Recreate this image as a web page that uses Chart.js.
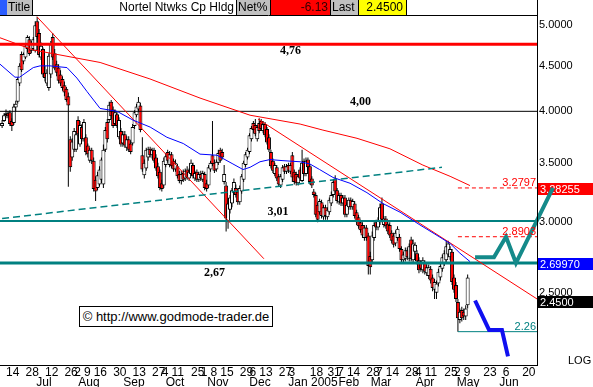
<!DOCTYPE html>
<html>
<head>
<meta charset="utf-8">
<title>Nortel Ntwks Cp Hldg</title>
<script src="https://cdn.jsdelivr.net/npm/chart.js@4.4.1/dist/chart.umd.min.js"></script>
<style>
  html, body { margin: 0; padding: 0; background: #fff; }
  #wrap { position: relative; width: 593px; height: 387px; overflow: hidden; font-family: 'Liberation Sans', Arial, sans-serif; }
  #chart { position: absolute; left: 0; top: 0; }
  .hd { position: absolute; top: 0; height: 15px; line-height: 15px; font-size: 12px; box-sizing: border-box; white-space: nowrap; color: #000; }
  .gray { background: #c0c0c0; }
  .edge { border-left: 1px solid #000; border-right: 1px solid #000; }
  #copy { position: absolute; left: 79px; top: 306px; width: 194px; height: 21px; box-sizing: border-box; border: 1px solid #000; background: #fff; font-size: 13px; line-height: 19px; text-align: center; }
</style>
</head>
<body>
<div id="wrap">
  <canvas id="chart" width="593" height="387"></canvas>
  <div class="hd" style="left:0;width:7px;background:#2a5cff"></div>
  <div class="hd gray" style="left:7px;width:26px;padding-left:1px;border-right:1px solid #000">Title</div>
  <div class="hd" style="left:33px;width:203px;text-align:right;padding-right:2px">Nortel Ntwks Cp Hldg</div>
  <div class="hd gray edge" style="left:236px;width:35px;padding-left:1px">Net%</div>
  <div class="hd" style="left:271px;width:60px;background:#ff0000;color:#300000;text-align:right;padding-right:3px">-6.13</div>
  <div class="hd gray edge" style="left:330px;width:29px;padding-left:1px">Last</div>
  <div class="hd" style="left:359px;width:48px;background:#ffff00;text-align:right;padding-right:3px;border-right:1px solid #000">2.4500</div>
  <div id="copy">© http://www.godmode-trader.de</div>
</div>
<script>
// trading day index 0 = Mon 14 Jun 2004
const firstDay = -2;
const xMin = -3.08;
const xMax = 272.6;
const yMin = 2.073;
const yMax = 5.134;
const yTicks = [2.5, 3, 3.5, 4, 4.5, 5];

const opens = [
  3.85,3.90,3.96,3.98,3.99,3.90,3.88,4.04,4.10,4.30,
  4.64,4.55,4.60,4.70,4.82,4.68,4.70,4.68,5.05,4.90,
  4.60,4.70,4.42,4.30,4.25,4.40,4.85,4.65,4.52,4.48,
  4.40,4.35,4.28,4.24,4.16,3.72,3.55,3.62,3.62,3.91,
  3.67,3.84,3.72,3.74,3.66,3.52,3.62,3.52,3.35,3.28,
  3.31,3.35,3.31,3.62,3.89,3.91,4.10,4.02,3.87,3.97,
  3.74,3.80,3.68,3.77,3.64,3.72,3.68,3.68,3.85,3.96,
  4.02,4.06,3.57,3.39,3.45,3.55,3.63,3.57,3.62,3.55,
  3.47,3.42,3.32,3.30,3.48,3.60,3.48,3.58,3.52,3.44,
  3.47,3.40,3.34,3.41,3.36,3.44,3.36,3.40,3.48,3.36,
  3.42,3.35,3.40,3.35,3.40,3.32,3.30,3.44,3.57,3.50,
  3.44,3.50,3.62,3.60,3.33,3.30,3.00,3.10,3.15,3.24,
  3.28,3.25,3.16,3.25,3.35,3.48,3.55,3.60,3.72,3.88,
  3.86,3.72,3.88,3.90,3.80,3.87,3.82,3.74,3.60,3.52,
  3.40,3.46,3.38,3.30,3.35,3.47,3.42,3.48,3.42,3.57,
  3.42,3.40,3.32,3.44,3.34,3.52,3.40,3.53,3.47,3.36,
  3.25,3.22,3.14,3.08,3.16,3.04,3.12,3.04,3.08,3.15,
  3.22,3.36,3.26,3.16,3.22,3.15,3.20,3.06,3.12,3.18,
  3.12,3.15,3.08,3.04,3.00,2.98,2.88,2.96,2.90,2.75,
  2.72,2.88,3.00,2.96,3.00,3.15,2.98,3.03,2.99,2.98,
  2.92,2.90,2.84,2.88,2.89,2.80,2.72,2.73,2.79,2.73,
  2.87,2.72,2.78,2.77,2.72,2.70,2.65,2.70,2.63,2.61,
  2.66,2.60,2.52,2.50,2.56,2.60,2.66,2.70,2.72,2.76,
  2.74,2.78,2.60,2.55,2.44,2.33,2.39,2.38,2.35,2.42
];
const highs = [
  3.91,3.98,4.02,4.00,4.01,3.93,4.08,4.11,4.37,4.53,
  4.67,4.66,4.77,4.87,4.86,4.80,4.85,5.05,5.11,4.95,
  4.78,4.72,4.50,4.46,4.65,4.80,4.90,4.70,4.56,4.52,
  4.45,4.38,4.32,4.26,4.20,3.75,3.73,3.83,3.80,3.95,
  3.90,3.87,3.92,3.77,3.68,3.64,3.64,3.55,3.38,3.42,
  3.47,3.55,3.67,3.84,3.92,4.10,4.12,4.05,4.02,4.00,
  3.94,3.83,3.80,3.80,3.75,3.75,3.71,3.87,4.01,4.08,
  4.15,4.09,3.74,3.53,3.64,3.65,3.65,3.64,3.64,3.58,
  3.50,3.44,3.35,3.55,3.59,3.62,3.61,3.60,3.54,3.53,
  3.49,3.43,3.43,3.44,3.45,3.47,3.45,3.53,3.50,3.43,
  3.44,3.42,3.43,3.43,3.42,3.35,3.48,3.52,3.90,3.53,
  3.53,3.62,3.64,3.63,3.48,3.33,3.18,3.22,3.28,3.36,
  3.31,3.27,3.30,3.40,3.52,3.60,3.64,3.78,3.85,3.90,
  3.92,3.86,3.93,3.92,3.90,3.89,3.84,3.77,3.62,3.54,
  3.50,3.48,3.40,3.40,3.48,3.49,3.49,3.50,3.50,3.60,
  3.44,3.42,3.40,3.46,3.62,3.54,3.55,3.55,3.49,3.38,
  3.27,3.24,3.16,3.19,3.18,3.14,3.14,3.12,3.20,3.25,
  3.35,3.39,3.28,3.24,3.24,3.22,3.22,3.16,3.20,3.20,
  3.19,3.17,3.10,3.06,3.02,3.00,2.98,2.98,2.92,2.78,
  2.93,3.00,3.02,3.04,3.15,3.20,3.05,3.05,3.01,3.00,
  2.94,2.92,2.94,2.97,2.91,2.82,2.78,2.81,2.81,2.84,
  2.89,2.87,2.85,2.79,2.74,2.72,2.74,2.72,2.69,2.69,
  2.68,2.62,2.59,2.58,2.66,2.70,2.76,2.79,2.86,2.86,
  2.82,2.80,2.62,2.57,2.46,2.40,2.41,2.40,2.42,2.62
];
const lows = [
  3.83,3.89,3.93,3.93,3.85,3.80,3.86,4.00,4.08,4.27,
  4.43,4.52,4.58,4.66,4.62,4.65,4.68,4.66,4.82,4.60,
  4.57,4.37,4.32,4.27,4.22,4.36,4.57,4.45,4.38,4.30,
  4.27,4.22,4.16,4.10,3.29,3.42,3.52,3.60,3.60,3.74,
  3.65,3.70,3.70,3.57,3.55,3.50,3.49,3.25,3.17,3.26,
  3.29,3.32,3.28,3.60,3.69,3.88,3.92,3.83,3.85,3.83,
  3.72,3.65,3.65,3.64,3.61,3.60,3.58,3.66,3.82,3.94,
  3.99,3.79,3.42,3.36,3.43,3.52,3.55,3.54,3.50,3.43,
  3.36,3.26,3.25,3.28,3.46,3.50,3.46,3.45,3.42,3.42,
  3.36,3.32,3.31,3.33,3.34,3.35,3.34,3.38,3.36,3.34,
  3.33,3.33,3.34,3.33,3.26,3.25,3.28,3.42,3.47,3.41,
  3.42,3.48,3.50,3.53,3.31,2.93,2.95,3.07,3.12,3.22,
  3.20,3.14,3.14,3.23,3.33,3.46,3.53,3.58,3.70,3.78,
  3.75,3.70,3.78,3.80,3.78,3.74,3.67,3.60,3.45,3.41,
  3.38,3.34,3.29,3.28,3.33,3.40,3.40,3.41,3.40,3.33,
  3.31,3.30,3.30,3.34,3.33,3.38,3.38,3.44,3.31,3.28,
  3.20,3.04,3.00,3.06,3.03,3.02,3.02,3.02,3.06,3.13,
  3.20,3.23,3.15,3.14,3.13,3.13,3.04,3.04,3.10,3.10,
  3.10,3.03,2.98,2.95,2.92,2.88,2.86,2.86,2.62,2.62,
  2.70,2.86,2.94,2.94,2.98,3.00,2.96,2.95,2.91,2.88,
  2.84,2.81,2.82,2.86,2.78,2.70,2.70,2.71,2.72,2.71,
  2.71,2.70,2.76,2.69,2.63,2.64,2.63,2.62,2.61,2.59,
  2.56,2.51,2.46,2.46,2.54,2.58,2.64,2.68,2.70,2.74,
  2.72,2.55,2.50,2.44,2.26,2.31,2.32,2.33,2.33,2.40
];
const closes = [
  3.88,3.96,3.98,3.95,3.87,3.85,4.05,4.08,4.35,4.50,
  4.45,4.64,4.74,4.85,4.64,4.77,4.82,5.00,4.85,4.63,
  4.74,4.40,4.36,4.42,4.62,4.76,4.60,4.47,4.42,4.33,
  4.30,4.25,4.20,4.12,4.06,3.46,3.70,3.80,3.77,3.77,
  3.86,3.72,3.89,3.60,3.58,3.62,3.52,3.27,3.25,3.39,
  3.44,3.53,3.62,3.81,3.72,4.07,3.95,3.85,3.99,3.85,
  3.91,3.67,3.77,3.66,3.72,3.62,3.60,3.84,3.99,4.05,
  4.10,3.81,3.44,3.50,3.62,3.63,3.57,3.62,3.52,3.45,
  3.38,3.28,3.27,3.52,3.56,3.52,3.58,3.47,3.44,3.50,
  3.38,3.34,3.40,3.35,3.43,3.37,3.42,3.50,3.38,3.41,
  3.35,3.40,3.36,3.41,3.28,3.27,3.46,3.50,3.49,3.43,
  3.51,3.59,3.52,3.55,3.40,3.03,3.15,3.20,3.26,3.33,
  3.22,3.16,3.28,3.38,3.50,3.58,3.62,3.76,3.83,3.81,
  3.77,3.84,3.80,3.82,3.87,3.76,3.69,3.62,3.47,3.43,
  3.48,3.36,3.31,3.38,3.46,3.42,3.47,3.43,3.48,3.37,
  3.33,3.32,3.38,3.36,3.50,3.40,3.52,3.46,3.33,3.30,
  3.22,3.06,3.02,3.17,3.05,3.12,3.05,3.10,3.18,3.22,
  3.33,3.25,3.17,3.22,3.15,3.20,3.06,3.14,3.18,3.12,
  3.17,3.05,3.00,2.97,2.94,2.90,2.96,2.88,2.68,2.67,
  2.90,2.98,2.96,3.02,3.12,3.02,3.03,2.97,2.93,2.90,
  2.86,2.83,2.92,2.95,2.80,2.72,2.76,2.79,2.74,2.82,
  2.73,2.84,2.83,2.71,2.65,2.66,2.72,2.64,2.67,2.67,
  2.58,2.53,2.57,2.56,2.64,2.68,2.74,2.77,2.82,2.84,
  2.80,2.57,2.52,2.46,2.34,2.38,2.34,2.35,2.40,2.60
];

// short moving average (blue)
const maDays = [-3.08, 4.6, 7, 14, 17.5, 22.6, 31.3, 36.4, 41.6, 48.3, 57, 65.2, 74, 82.6, 91, 99.6, 108.3, 116.5, 121.7, 125.3, 130.4, 135.5, 142.2, 151, 156, 161, 167.9, 176.6, 185.3, 193.5, 202.3, 212.5, 220.2, 228, 233, 238.2];
const maValues = [4.52, 4.37, 4.37, 4.48, 4.50, 4.50, 4.48, 4.36, 4.21, 4.03, 4.00, 3.91, 3.84, 3.74, 3.68, 3.58, 3.57, 3.49, 3.44, 3.46, 3.51, 3.53, 3.52, 3.51, 3.49, 3.44, 3.37, 3.32, 3.24, 3.15, 3.08, 2.98, 2.91, 2.84, 2.77, 2.71];
// long moving average (red)
const lmaDays = [-3.08, 13.9, 48.3, 73.9, 99.6, 125.3, 151, 162.7, 180.2, 197.1, 214, 228, 238.2];
const lmaValues = [4.84, 4.69, 4.54, 4.35, 4.14, 3.96, 3.87, 3.81, 3.73, 3.63, 3.48, 3.38, 3.30];

// trend lines
const trendADays = [15.9, 132.4];
const trendAValues = [5.11, 2.73];
const trendBDays = [129.4, 272.6];
const trendBValues = [3.92, 2.46];
const supportDays = [-2, 223.8];
const supportValues = [3.03, 3.46];

// horizontal levels
const levels = [4.76, 4.00, 3.01, 2.6997];
const levelColors = ['#ff0000', '#000000', '#008080', '#008080'];
const levelWidths = [3, 1, 2, 3];
const noteTexts = ['4,76', '4,00', '3,01', '2,67'];
const noteDays = [146, 182, 139.6, 107];
const noteOffsets = [7, -9, -9, 10];

// targets on the right
const targetStart = 232;
const targets = [3.2797, 2.8903];
const targetLabels = ['3.2797', '2.8903'];
const lowMark = 2.26;

// projections
const bullDays = [240.8, 250.5, 256.7, 261.8, 280.8, 286];
const bullValues = [2.74, 2.74, 2.89, 2.70, 3.28, 3.13];
const bearDays = [240.8, 248, 254.6, 257.7];
const bearValues = [2.45, 2.27, 2.27, 2.12];

// price tags on the axis
const tagValues = [3.28255, 2.6997, 2.45];
const tagLabels = ['3.28255', '2.69970', '2.4500'];
const tagColors = ['#ff0000', '#0000ff', '#000000'];

// x axis labels
const weekDays = [0,10,20,30,35,40,45,55,65,75,80,85,95,100,105,110,120,125,130,140,145,156,165,170,175,185,190,195,205,210,215,225,230,235,245,255,265];
const weekLabels = ['14','28','12','26','2','9','16','30','13','27','4','11','25','1','8','15','29','6','13','27','3','18','31','7','14','28','7','14','28','4','11','25','2','9','23','6','20'];
const monthDays = [19.5, 42.6, 65.7, 86.8, 108.8, 130.4, 157.6, 176, 192.5, 215.1, 237.2, 258.2];
const monthNames = ['Jul','Aug','Sep','Oct','Nov','Dec','Jan 2005','Feb','Mar','Apr','May','Jun'];

const candleDays = opens.map((_, i) => firstDay + i);
const wickData = candleDays.map((d, i) => ({ x: d, y: [lows[i], highs[i]] }));
const bodyData = candleDays.map((d, i) => ({ x: d, y: [opens[i], closes[i]] }));
const bodyColors = closes.map((c, i) => c < opens[i] ? '#ff0000' : '#ffffff');

function lineSet(days, values, color, width, extra) {
  return Object.assign({
    type: 'line',
    data: days.map((d, i) => ({ x: d, y: values[i] })),
    borderColor: color,
    borderWidth: width,
    pointRadius: 0,
    fill: false,
    tension: 0,
    order: 1
  }, extra || {});
}

const datasets = [
  { label: 'wicks', data: wickData, backgroundColor: '#000', borderWidth: 0, barThickness: 1, grouped: false, inflateAmount: 0, order: 3 },
  { label: 'bodies', data: bodyData, backgroundColor: bodyColors, borderColor: '#000', borderWidth: 1, borderSkipped: false, barThickness: 4, grouped: false, inflateAmount: 0, order: 2 },
  lineSet(supportDays, supportValues, '#008080', 1.5, { borderDash: [7, 4] }),
  lineSet(lmaDays, lmaValues, '#ff0000', 1),
  lineSet(maDays, maValues, '#0000ff', 1),
  lineSet(trendADays, trendAValues, '#ff0000', 1),
  lineSet(trendBDays, trendBValues, '#ff0000', 1)
];
levels.forEach((v, i) => datasets.push(lineSet([xMin, xMax], [v, v], levelColors[i], levelWidths[i])));
targets.forEach(v => datasets.push(lineSet([targetStart, xMax], [v, v], '#ff0000', 1, { borderDash: [4, 3] })));
datasets.push(lineSet([targetStart, xMax], [lowMark, lowMark], '#008080', 1));
datasets.push(lineSet(bearDays, bearValues, '#1010f0', 4, { order: 0 }));
datasets.push(lineSet(bullDays, bullValues, '#148a8a', 4, { order: 0, clip: false }));

const overlay = {
  id: 'overlay',
  beforeDatasetsDraw(chart) {
    const { ctx, chartArea } = chart;
    const y = chart.scales.y;
    ctx.save();
    ctx.font = '11px "Liberation Sans"';
    ctx.textBaseline = 'middle';
    ctx.textAlign = 'left';
    tagValues.forEach((v, i) => {
      const py = Math.round(y.getPixelForValue(v));
      ctx.fillStyle = tagColors[i];
      ctx.fillRect(chartArea.right + 1, py - 5, 56, 12);
      ctx.fillStyle = '#fff';
      ctx.fillText(tagLabels[i], chartArea.right + 3, py + 1.5);
    });
    ctx.restore();
  },
  afterDraw(chart) {
    const { ctx, chartArea } = chart;
    const x = chart.scales.x, y = chart.scales.y;
    ctx.save();
    // frame
    ctx.strokeStyle = '#000';
    ctx.lineWidth = 1;
    ctx.beginPath();
    ctx.moveTo(0, chartArea.top + 0.5);
    ctx.lineTo(chartArea.right, chartArea.top + 0.5);
    ctx.moveTo(chartArea.right + 0.5, 0);
    ctx.lineTo(chartArea.right + 0.5, chartArea.bottom);
    ctx.stroke();
    // level notes
    ctx.font = 'bold 12px "Liberation Serif"';
    ctx.textAlign = 'center';
    ctx.textBaseline = 'middle';
    ctx.fillStyle = '#000';
    noteTexts.forEach((t, i) => {
      ctx.fillText(t, x.getPixelForValue(noteDays[i]), y.getPixelForValue(levels[i]) + noteOffsets[i]);
    });
    // target labels
    ctx.font = '11px "Liberation Sans"';
    ctx.textAlign = 'right';
    ctx.textBaseline = 'alphabetic';
    ctx.fillStyle = '#ff0000';
    targets.forEach((v, i) => ctx.fillText(targetLabels[i], chartArea.right - 1, y.getPixelForValue(v) - 2));
    ctx.fillStyle = '#008080';
    ctx.fillText(lowMark.toFixed(2), chartArea.right - 1, y.getPixelForValue(lowMark) - 2);
    ctx.fillStyle = '#000';
    ctx.textAlign = 'left';
    ctx.fillText('LOG', chartArea.right + 31, chartArea.bottom - 1);
    ctx.restore();
  }
};

const narrowFont = { family: "'Liberation Sans Narrow', 'Liberation Sans', sans-serif", size: 12 };

new Chart(document.getElementById('chart'), {
  type: 'bar',
  data: { datasets: datasets },
  plugins: [overlay],
  options: {
    responsive: false,
    animation: false,
    devicePixelRatio: 1,
    events: [],
    layout: { padding: { top: 15, left: 0, right: 0, bottom: 0 } },
    plugins: { legend: { display: false }, tooltip: { enabled: false } },
    scales: {
      x: {
        type: 'linear', position: 'bottom', min: xMin, max: xMax, offset: false, bounds: 'data',
        grid: { display: false, drawTicks: false },
        border: { display: true, color: '#000' },
        afterBuildTicks: s => { s.ticks = weekDays.map(v => ({ value: v })); },
        afterFit: s => { s.height = 11; },
        ticks: { autoSkip: false, maxRotation: 0, align: 'start', padding: 0, color: '#000', font: narrowFont,
          callback: (v, i) => weekLabels[i] }
      },
      xm: {
        type: 'linear', position: 'bottom', min: xMin, max: xMax, offset: false, bounds: 'data',
        grid: { display: false, drawTicks: false },
        border: { display: false },
        afterBuildTicks: s => { s.ticks = monthDays.map(v => ({ value: v })); },
        afterFit: s => { s.height = 11; },
        ticks: { autoSkip: false, maxRotation: 0, padding: -1, color: '#000', font: narrowFont,
          callback: (v, i) => monthNames[i] }
      },
      y: {
        type: 'logarithmic', position: 'right', min: yMin, max: yMax, bounds: 'data',
        grid: { display: false, drawTicks: false },
        border: { display: true, color: '#000' },
        afterBuildTicks: s => { s.ticks = yTicks.map(v => ({ value: v })); },
        afterFit: s => { s.width = 56; },
        ticks: { padding: 2, color: '#000', font: { family: "'Liberation Sans', sans-serif", size: 11 },
          callback: v => Number(v).toFixed(4) }
      }
    }
  }
});
</script>
</body>
</html>
